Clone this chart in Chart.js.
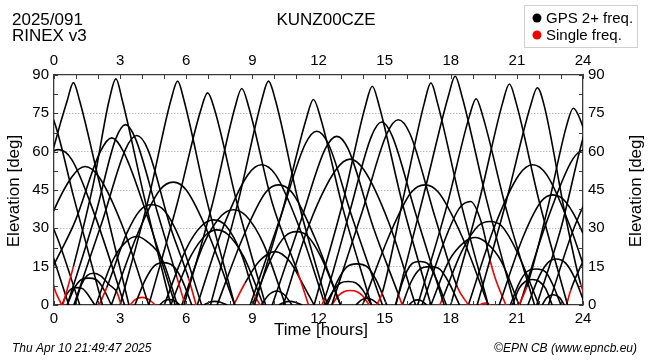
<!DOCTYPE html>
<html lang="en">
<head>
<meta charset="UTF-8">
<script src="https://cdn.jsdelivr.net/npm/chart.js"></script>
<title>KUNZ00CZE elevation</title>
<style>
  html, body { margin: 0; padding: 0; background: #fff; }
</style>
</head>
<body>
<canvas id="grafico" width="650" height="360"></canvas>
<script>
// textos do grafico
const estacao = 'KUNZ00CZE';
const diaAno = '2025/091';
const versao = 'RINEX v3';
const rodapeData = 'Thu Apr 10 21:49:47 2025';
const rodapeFonte = '\u00A9EPN CB (www.epncb.eu)';
const legendas = ['GPS 2+ freq.', 'Single freq.'];

// eixos
const horas = [0, 3, 6, 9, 12, 15, 18, 21, 24];
const elevacoes = [0, 15, 30, 45, 60, 75, 90];

// passagens: [hora, elevacao, 1 = trecho seguinte em frequencia simples]
const passagens = [
  [[-2.0,0],[-0.9,30],[0,62],[0.6,80],[0.88,87],[1.16,80],[2.0,50],[3.4,0]],
  [[21.9,0],[23.0,30],[23.9,62],[24.5,80],[24.81,87],[25.1,80],[26.0,50],[27.3,0]],
  [[0.4,0,1],[0.88,15],[1.8,48],[2.5,80],[2.81,88.5],[3.1,80],[4.1,42],[5.3,0]],
  [[3.0,0],[4.3,42],[5.3,80],[5.61,87.6],[5.9,80],[6.9,42],[8.2,0]],
  [[4.3,0],[5.6,40],[6.65,76],[6.97,83],[7.3,76],[8.3,40],[9.6,0]],
  [[5.9,0],[7.2,40],[8.2,77],[8.52,84.7],[8.85,77],[9.9,40],[11.07,12.5,1],[11.55,0]],
  [[7.1,0],[8.4,42],[9.42,80],[9.73,87.6],[10.05,80],[11.1,40],[12.4,0]],
  [[9.1,0],[10.4,38],[11.45,73],[11.77,80.4],[12.1,73],[13.1,38],[14.4,0]],
  [[11.8,0],[13.1,40],[14.13,78],[14.44,85.6],[14.75,78],[15.8,40],[17.1,0]],
  [[14.65,0,1],[14.9,5],[15.9,44],[16.8,79],[17.1,86.9],[17.4,79],[18.4,42],[19.7,0]],
  [[15.5,0],[16.8,44],[17.9,82],[18.2,89.5],[18.5,82],[19.6,42],[20.9,0]],
  [[16.5,0],[17.8,38],[18.85,74],[19.15,80.7],[19.45,74],[20.5,38],[21.8,0]],
  [[18.0,0],[19.3,41],[20.35,79],[20.66,86.5],[20.97,79],[22.0,41],[23.3,0]],
  [[19.2,0],[20.5,40],[21.62,78],[21.93,85],[22.24,78],[23.2,35],[23.9,8,1],[24.3,0]],
  [[-4.73,0],[-3.43,40],[-2.31,78],[-2.0,85],[-1.69,78],[-0.73,35],[0,7,1],[0.35,0]],
  [[21.1,0,1],[21.45,7],[22.4,38],[23.25,70],[23.56,77],[23.9,72],[24.8,45],[26.2,0]],
  [[-2.83,0],[-2.48,7],[-1.53,38],[-0.68,70],[-0.37,77],[0,72],[0.9,42],[2.2,0]],
  [[0.6,0],[1.9,36],[2.8,65],[3.25,70.6],[3.7,65],[4.7,36],[5.57,11,1],[5.95,0]],
  [[-0.68,0,1],[-0.48,6],[0.97,33],[2.1,60],[2.62,65.4],[3.15,60],[4.3,33],[5.5,0]],
  [[23.25,0,1],[23.45,6],[24.9,33],[26.0,60],[26.55,65.4],[27.1,60]],
  [[0.9,0],[2.2,33],[3.25,61],[3.75,66.3],[4.25,61],[5.3,30],[6.1,10.6,1],[6.45,0]],
  [[-2.8,0],[-1.6,32],[-0.4,57],[0.2,60.8],[0.8,57],[1.9,34],[3.2,0]],
  [[21.13,0],[22.33,32],[23.53,57],[24.13,60.8],[24.73,57],[25.8,34],[27.1,0]],
  [[8.9,0],[10.3,35],[11.4,63],[11.92,68],[12.45,63],[13.5,35],[14.9,0]],
  [[9.9,0],[11.2,33],[12.3,61],[12.83,66],[13.35,61],[14.5,30],[15.6,4.7,1],[15.8,0]],
  [[12.15,0,1],[12.3,3],[13.4,36],[14.4,66],[14.87,71.6],[15.35,66],[16.4,36],[17.7,0]],
  [[12.6,0],[14.0,37],[15.1,67],[15.62,72.5],[16.15,67],[17.3,34],[18.3,7,1],[18.8,0]],
  [[10.4,0],[11.6,32],[12.8,53],[13.43,57.1],[14.05,53],[15.2,32],[16.4,0]],
  [[6.5,0],[7.7,31],[8.8,51],[9.42,54.9],[10.05,51],[11.1,31],[12.3,0]],
  [[18.8,0],[20.0,31],[21.1,51],[21.72,54.9],[22.35,51],[23.4,31],[24.6,0]],
  [[-5.13,0],[-3.93,31],[-2.83,51],[-2.21,54.9],[-1.58,51],[-0.53,31],[0.67,0]],
  [[-1.5,0],[-0.3,31],[0.8,50],[1.41,54.2],[2.05,50],[3.1,31],[4.3,0]],
  [[22.43,0],[23.63,31],[24.73,50],[25.34,54.2],[26.0,50]],
  [[2.6,0],[3.8,28],[4.8,45],[5.41,48.1],[6.0,45],[7.0,28],[8.2,0]],
  [[7.4,0],[8.6,27],[9.6,44],[10.18,47],[10.8,44],[11.8,27],[13.0,0]],
  [[14.0,0],[15.2,27],[16.2,44],[16.83,47],[17.45,44],[18.5,27],[19.7,0]],
  [[20.2,0],[21.3,27],[22.1,40.5],[22.63,43.1],[23.2,40.5],[24.0,28],[25.1,0]],
  [[-3.73,0],[-2.63,27],[-1.83,40.5],[-1.3,43.1],[-0.73,40.5],[0.07,28],[1.17,0]],
  [[16.7,0],[17.8,27],[18.4,38],[18.9,40.5],[19.4,32],[19.8,17,1],[20.0,11,1],[20.5,0]],
  [[2.05,0,1],[2.4,7],[3.3,28],[3.9,37],[4.43,39.2],[5.0,37],[5.7,26],[6.7,0]],
  [[5.8,0],[6.8,24],[7.6,35],[8.14,37.3],[8.7,35],[9.5,24],[10.5,0]],
  [[5.0,0],[6.0,22],[6.7,31],[7.23,33.3],[7.8,31],[8.5,20],[9.1,4,1],[9.35,0]],
  [[5.3,0],[6.2,19],[6.9,27.5],[7.38,29.4],[7.9,27.5],[8.6,19],[9.5,0]],
  [[17.5,0,1],[17.65,3],[18.5,21],[19.25,31],[19.78,32.7],[20.3,31],[21.0,21],[22.0,0]],
  [[17.1,0],[17.9,17],[18.6,24.5],[19.1,26.4],[19.6,24.5],[20.3,17],[21.1,0]],
  [[9.0,0],[9.9,19],[10.5,27],[11.01,28.7],[11.5,27],[12.1,19],[13.0,0]],
  [[1.9,0],[2.7,18],[3.3,25],[3.75,26.8],[4.2,25],[4.9,18],[5.6,0]],
  [[8.15,0,1],[8.67,8.6],[9.3,17],[10.03,20.9],[10.7,17],[11.3,8],[11.8,0]],
  [[21.5,0],[22.0,11],[22.4,16.5],[22.78,18],[23.2,16.5],[23.6,11],[24.1,0]],
  [[3.67,0],[4.15,10],[4.55,15.3],[4.96,16.6],[5.4,15.3],[5.8,10],[6.25,0]],
  [[0.95,0],[1.25,8],[1.5,11.5],[1.78,12.4],[2.1,11.5],[2.5,8],[2.85,5,1],[3.05,0]],
  [[0.6,0],[0.95,7],[1.25,10],[1.56,10.5],[1.9,10],[2.2,7],[2.6,0]],
  [[0.35,0],[0.6,4.5],[0.8,6.4],[1.03,6.8],[1.3,6.4],[1.5,4.5],[1.85,0]],
  [[12.4,0],[12.9,10],[13.3,15],[13.73,16.1],[14.2,15],[14.6,10],[15.1,0]],
  [[12.3,0],[12.7,6],[13.0,8.6],[13.35,9.2],[13.7,8.6],[14.0,6],[14.4,0]],
  [[12.6,0,1],[12.9,3.6,1],[13.15,5.2,1],[13.43,5.7,1],[13.75,5.2,1],[14.0,3.6,1],[14.3,0]],
  [[15.5,0],[15.85,10],[16.2,15.8],[16.6,17],[17.0,15.8],[17.35,10],[17.8,0]],
  [[15.8,0],[16.2,9],[16.6,14],[17.06,15],[17.5,14],[17.9,9],[18.4,0]],
  [[20.7,0],[21.1,8.5],[21.45,13],[21.87,14.1],[22.3,13],[22.6,8.5],[23.0,0]],
  [[20.8,0],[21.1,6.5],[21.4,9.3],[21.7,10],[22.0,9.3],[22.3,6.5],[22.6,0]],
  [[22.15,0],[22.35,2.8],[22.65,4],[22.95,2.8],[23.15,0]],
  [[9.4,0],[9.75,4],[10.1,5.5],[10.45,4],[10.8,0]],
  [[10.2,0],[10.45,1.1],[10.7,1.4],[10.95,1.1],[11.25,0]],
  [[3.45,0,1],[3.7,2.2,1],[4.0,3,1],[4.3,2.2,1],[4.6,0]],
  [[4.8,0],[5.0,1.6],[5.25,2.1],[5.5,1.6],[5.7,0]],
  [[6.8,0],[7.05,1.1],[7.3,1.4],[7.55,1.1],[7.85,0]],
  [[13.7,0],[13.95,2],[14.2,2.7],[14.45,2],[14.75,0]],
  [[16.1,0],[16.3,1.5],[16.5,2],[16.7,1.5],[16.9,0]],
  [[19.3,0,1],[19.45,0.6,1],[19.55,0.8,1],[19.65,0.6,1],[19.8,0]]
];

const PRETO = '#000000';
const VERMELHO = '#ee0000';
const fonte = "'Liberation Sans', Arial, Helvetica, sans-serif";

const datasets = passagens.map(p => {
  const mono = p.map(pt => pt[2] === 1);
  return {
    data: p.map(([x, y]) => ({ x: x, y: y })),
    showLine: true,
    borderColor: PRETO,
    borderWidth: 1.6,
    pointRadius: 0,
    cubicInterpolationMode: 'monotone',
    segment: {
      borderColor: ctx => mono[ctx.p0DataIndex] ? VERMELHO : PRETO
    }
  };
});

const tickFont = { family: fonte, size: 15 };

function eixo(pos, min, max, step, tamanho, horizontal) {
  return {
    type: 'linear',
    position: pos,
    min: min,
    max: max,
    grid: { display: false, drawTicks: false },
    border: { display: true, color: '#3a3a3a', width: 1.3 },
    ticks: {
      stepSize: step, color: '#000', font: tickFont, padding: 5,
      autoSkip: false, maxRotation: 0, includeBounds: true
    },
    afterFit: s => { if (horizontal) s.height = tamanho; else s.width = tamanho; }
  };
}

const escalaY = eixo('left', elevacoes[0], elevacoes[elevacoes.length - 1], 15, 54, false);
escalaY.grid = {
  display: true, drawTicks: false, lineWidth: 1,
  color: c => (c.tick && c.tick.value > 0 && c.tick.value < 90) ? '#9a9a9a' : 'rgba(0,0,0,0)'
};
escalaY.border.dash = [1, 2];

const textos = {
  id: 'textos',
  beforeDraw(chart) {
    const ctx = chart.ctx;
    ctx.save();
    ctx.fillStyle = '#fff';
    ctx.fillRect(0, 0, chart.width, chart.height);
    ctx.restore();
  },
  afterDraw(chart) {
    const { ctx, chartArea: a, scales } = chart;
    ctx.save();
    // marcas internas
    ctx.strokeStyle = '#3a3a3a';
    ctx.lineWidth = 1;
    ctx.beginPath();
    for (let h = 0; h <= 24; h++) {
      const x = Math.round(scales.x.getPixelForValue(h)) + 0.5;
      ctx.moveTo(x, a.top); ctx.lineTo(x, a.top + 4);
      ctx.moveTo(x, a.bottom); ctx.lineTo(x, a.bottom - 4);
    }
    for (let e = 0; e <= 90; e += 7.5) {
      const y = Math.round(scales.y.getPixelForValue(e)) + 0.5;
      ctx.moveTo(a.left, y); ctx.lineTo(a.left + 4, y);
      ctx.moveTo(a.right, y); ctx.lineTo(a.right - 4, y);
    }
    ctx.stroke();

    ctx.fillStyle = '#000';
    ctx.textBaseline = 'middle';
    ctx.font = '17px ' + fonte;
    ctx.textAlign = 'left';
    ctx.fillText(diaAno, 12, 20);
    ctx.fillText(versao, 12, 36);
    ctx.textAlign = 'center';
    ctx.fillText(estacao, 326, 20);
    ctx.fillText('Time [hours]', 321, 330);

    ctx.save();
    ctx.translate(14, 191);
    ctx.rotate(-Math.PI / 2);
    ctx.fillText('Elevation [deg]', 0, 0);
    ctx.restore();
    ctx.save();
    ctx.translate(636, 191);
    ctx.rotate(-Math.PI / 2);
    ctx.fillText('Elevation [deg]', 0, 0);
    ctx.restore();

    // legenda
    ctx.strokeStyle = '#d0d0d0';
    ctx.lineWidth = 1;
    ctx.strokeRect(524.5, 5.5, 113, 42);
    [PRETO, VERMELHO].forEach((cor, i) => {
      const y = 18 + i * 17;
      ctx.fillStyle = cor;
      ctx.beginPath();
      ctx.arc(537, y, 4.5, 0, Math.PI * 2);
      ctx.fill();
      ctx.fillStyle = '#000';
      ctx.font = '15px ' + fonte;
      ctx.textAlign = 'left';
      ctx.fillText(legendas[i], 546, y + 1);
    });

    ctx.font = 'italic 12px ' + fonte;
    ctx.textAlign = 'left';
    ctx.fillText(rodapeData, 12, 349);
    ctx.textAlign = 'right';
    ctx.fillText(rodapeFonte, 637, 349);
    ctx.restore();
  }
};

new Chart(document.getElementById('grafico'), {
  type: 'scatter',
  data: { datasets: datasets },
  options: {
    responsive: false,
    animation: false,
    devicePixelRatio: 1,
    layout: { padding: 0 },
    plugins: { legend: { display: false }, tooltip: { enabled: false }, title: { display: false } },
    scales: {
      x: eixo('bottom', horas[0], horas[horas.length - 1], 3, 55, true),
      x2: eixo('top', horas[0], horas[horas.length - 1], 3, 75, true),
      y: escalaY,
      y2: eixo('right', elevacoes[0], elevacoes[elevacoes.length - 1], 15, 67, false)
    }
  },
  plugins: [textos]
});
</script>
</body>
</html>
